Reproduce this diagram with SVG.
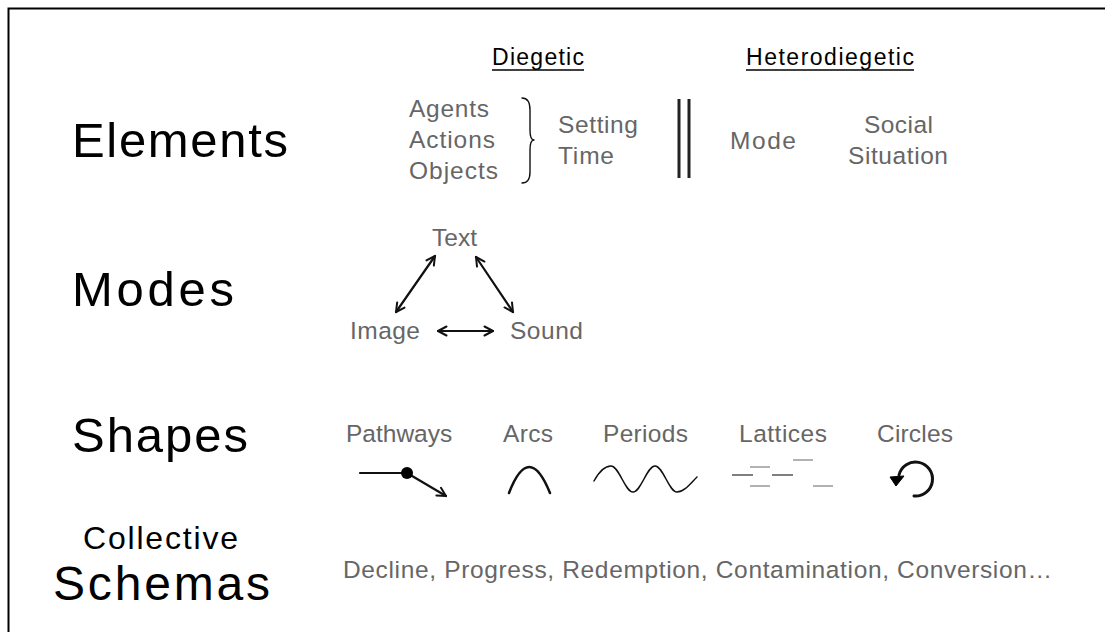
<svg xmlns="http://www.w3.org/2000/svg" width="1105" height="632" viewBox="0 0 1105 632">
<defs>
<style>
.big{font-family:"Liberation Sans",Arial,Helvetica,sans-serif;fill:#000}
.hdr{font-family:"Liberation Sans",Arial,Helvetica,sans-serif;font-size:23px;fill:#000}
.g{font-family:"Liberation Sans",Arial,Helvetica,sans-serif;font-size:24.5px;fill:#666}
.ink{fill:none;stroke:#111;stroke-linecap:round;stroke-linejoin:round}
</style>
<marker id="chev" viewBox="0 0 12 12" refX="10" refY="6" markerWidth="12" markerHeight="12" markerUnits="userSpaceOnUse" orient="auto-start-reverse">
<path d="M1.5,1.5 L10,6 L1.5,10.5" fill="none" stroke="#111" stroke-width="2" stroke-linecap="round" stroke-linejoin="round"/>
</marker>
</defs>
<rect x="0" y="0" width="1105" height="632" fill="#fff"/>
<path d="M8.5,632 V8.5 H1105" fill="none" stroke="#000" stroke-width="2"/>

<g id="row-labels">
<text class="big" x="72" y="157" font-size="49" textLength="216" lengthAdjust="spacing">Elements</text>
<text class="big" x="72" y="306" font-size="49" textLength="162" lengthAdjust="spacing">Modes</text>
<text class="big" x="72" y="452" font-size="49" textLength="176" lengthAdjust="spacing">Shapes</text>
<text class="big" x="83" y="549" font-size="32" textLength="155" lengthAdjust="spacing">Collective</text>
<text class="big" x="53" y="600" font-size="48" textLength="217" lengthAdjust="spacing">Schemas</text>
</g>

<g id="headers">
<text class="hdr" x="492" y="65" textLength="92" lengthAdjust="spacing">Diegetic</text>
<line x1="492" y1="70" x2="584" y2="70" stroke="#000" stroke-width="1.5"/>
<text class="hdr" x="746" y="65" textLength="168" lengthAdjust="spacing">Heterodiegetic</text>
<line x1="746" y1="70" x2="914" y2="70" stroke="#000" stroke-width="1.5"/>
</g>

<g id="diegetic-elements">
<text class="g" x="409" y="117" textLength="80" lengthAdjust="spacing">Agents</text>
<text class="g" x="409" y="148" textLength="86" lengthAdjust="spacing">Actions</text>
<text class="g" x="409" y="179" textLength="89" lengthAdjust="spacing">Objects</text>
<path class="ink" stroke-width="1.4" d="M522,98 C528,98 530,102 530,110 L530,130 C530,137 531,140 534,140 C531,140 530,143 530,150 L530,172 C530,179 528,183 522,183"/>
<text class="g" x="558" y="133" textLength="80" lengthAdjust="spacing">Setting</text>
<text class="g" x="558" y="164" textLength="56" lengthAdjust="spacing">Time</text>
</g>

<g id="divider">
<line x1="679" y1="99" x2="679" y2="178" stroke="#222" stroke-width="3"/>
<line x1="689" y1="99" x2="689" y2="178" stroke="#222" stroke-width="3"/>
</g>

<g id="heterodiegetic-elements">
<text class="g" x="730" y="149" textLength="66" lengthAdjust="spacing">Mode</text>
<text class="g" x="864" y="133" textLength="69" lengthAdjust="spacing">Social</text>
<text class="g" x="848" y="164" textLength="100" lengthAdjust="spacing">Situation</text>
</g>

<g id="mode-text"><text class="g" x="432" y="246" textLength="45" lengthAdjust="spacing">Text</text></g>
<g id="mode-image"><text class="g" x="350" y="339" textLength="70" lengthAdjust="spacing">Image</text></g>
<g id="mode-sound"><text class="g" x="510" y="339" textLength="73" lengthAdjust="spacing">Sound</text></g>

<g id="connectors">
<line class="ink" stroke-width="2.2" x1="435" y1="256" x2="396" y2="312" marker-start="url(#chev)" marker-end="url(#chev)"/>
<line class="ink" stroke-width="2.2" x1="476" y1="257" x2="513" y2="312" marker-start="url(#chev)" marker-end="url(#chev)"/>
<line class="ink" stroke-width="2.2" x1="438" y1="331" x2="493" y2="331" marker-start="url(#chev)" marker-end="url(#chev)"/>
</g>

<g id="shape-pathways">
<text class="g" x="346" y="442">Pathways</text>
<path class="ink" stroke-width="2.2" d="M360,473 L407,473 L446,496" marker-end="url(#chev)"/>
<circle cx="407" cy="473" r="6" fill="#000"/>
</g>

<g id="shape-arcs">
<text class="g" x="503" y="442" textLength="50" lengthAdjust="spacing">Arcs</text>
<path class="ink" stroke-width="2.5" d="M509,493 Q529,441 550,493"/>
</g>

<g id="shape-periods">
<text class="g" x="603" y="442" textLength="85" lengthAdjust="spacing">Periods</text>
<path class="ink" stroke-width="1.5" d="M594,481 C600,470 605,466 611,466 C619,466 625,492 633,492 C641,492 647,466 655,466 C663,466 669,492 677,492 C684,492 690,484 697,477"/>
</g>

<g id="shape-lattices">
<text class="g" x="739" y="442" textLength="88" lengthAdjust="spacing">Lattices</text>
<g stroke-width="1.5">
<line x1="732" y1="475" x2="753" y2="475" stroke="#555"/>
<line x1="750" y1="467" x2="770" y2="467" stroke="#999"/>
<line x1="750" y1="486" x2="770" y2="486" stroke="#999"/>
<line x1="772" y1="475" x2="793" y2="475" stroke="#555"/>
<line x1="793" y1="460" x2="813" y2="460" stroke="#999"/>
<line x1="813" y1="486" x2="833" y2="486" stroke="#999"/>
</g>
</g>

<g id="shape-circles">
<text class="g" x="877" y="442" textLength="76" lengthAdjust="spacing">Circles</text>
<path class="ink" stroke-width="3" d="M899,475 A17,17 0 1 1 914,496"/>
<path d="M890,477 L904,476 L896,486 Z" fill="#000" stroke="#000" stroke-width="1" stroke-linejoin="round"/>
</g>

<g id="schemas">
<text class="g" x="343" y="578" textLength="709" lengthAdjust="spacing">Decline, Progress, Redemption, Contamination, Conversion…</text>
</g>
</svg>
